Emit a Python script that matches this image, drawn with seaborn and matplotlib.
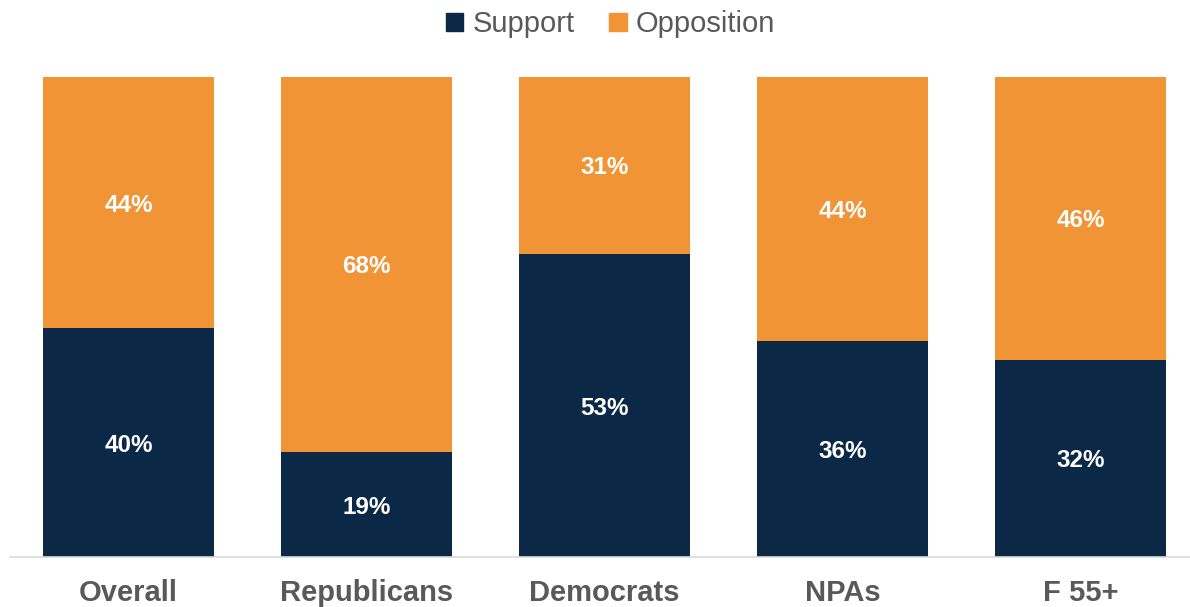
import pandas as pd
import matplotlib.pyplot as plt
import seaborn as sns
from matplotlib.patches import Patch

# data
groups = ["Overall", "Republicans", "Democrats", "NPAs", "F 55+"]
support = [40, 19, 53, 36, 32]
opposition = [44, 68, 31, 44, 46]

navy = "#0b2846"
orange = "#f09436"
grey = "#595959"

df = pd.DataFrame({"group": groups, "support": support, "opposition": opposition})
df["total"] = df["support"] + df["opposition"]
df["sup_share"] = df["support"] / df["total"]
df["full"] = 1.0

sns.set_style("white")
plt.rcParams["font.family"] = ["Liberation Sans", "DejaVu Sans"]

fig = plt.figure(figsize=(11.9, 6.07), dpi=100)
ax = fig.add_axes([0.008, 0.0824, 1.0, 0.791])

# 100% stacked: full bar in orange, support share on top in navy
sns.barplot(data=df, x="group", y="full", color=orange, width=0.715,
            saturation=1, linewidth=0, ax=ax)
sns.barplot(data=df, x="group", y="sup_share", color=navy, width=0.715,
            saturation=1, linewidth=0, ax=ax)

for i, row in df.iterrows():
    s = row["sup_share"]
    ax.text(i, s / 2, f"{row['support']}%", ha="center", va="center_baseline",
            color="white", fontsize=17.5, fontweight="bold")
    ax.text(i, s + (1 - s) / 2, f"{row['opposition']}%", ha="center",
            va="center_baseline", color="white", fontsize=17.5, fontweight="bold")

ax.set_xlim(-0.5, 4.5)
ax.set_ylim(0, 1)
ax.set_xlabel("")
ax.set_ylabel("")
ax.set_yticks([])
for side in ["top", "right", "left"]:
    ax.spines[side].set_visible(False)
ax.spines["bottom"].set_color("#d9d9d9")
ax.spines["bottom"].set_linewidth(1.2)
ax.tick_params(axis="x", length=0, pad=16, labelsize=21, labelcolor=grey)
for lbl in ax.get_xticklabels():
    lbl.set_fontweight("bold")

handles = [Patch(color=navy, label="Support"), Patch(color=orange, label="Opposition")]
fig.legend(handles=handles, loc="center", bbox_to_anchor=(0.513, 0.96), ncol=2,
           frameon=False, fontsize=21, labelcolor=grey, handlelength=0.6,
           handleheight=0.6, handletextpad=0.3, columnspacing=1.2)

fig.savefig("out.png", dpi=100)
